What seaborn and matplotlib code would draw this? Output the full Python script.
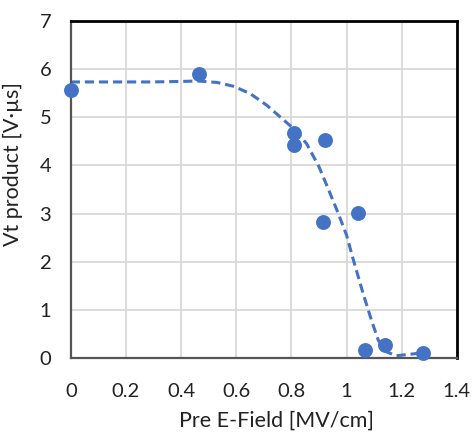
import matplotlib
matplotlib.use("Agg")
import matplotlib.pyplot as plt
import seaborn as sns
import pandas as pd

# measured points
field = [0.0, 0.464, 0.808, 0.808, 0.92, 0.914, 1.042, 1.067, 1.139, 1.278]
vt = [5.57, 5.89, 4.67, 4.42, 4.52, 2.82, 3.02, 0.17, 0.28, 0.11]

# dashed guide curve
curve_x = [0.0, 0.1, 0.2, 0.29, 0.4, 0.46, 0.53, 0.59, 0.65, 0.71, 0.76, 0.81,
           0.855, 0.9, 0.935, 0.97, 1.0, 1.025, 1.06, 1.09, 1.115, 1.145,
           1.18, 1.23, 1.275]
curve_y = [5.73, 5.73, 5.73, 5.73, 5.74, 5.75, 5.72, 5.64, 5.49, 5.25, 5.0, 4.75,
           4.45, 3.97, 3.49, 3.0, 2.55, 2.03, 1.34, 0.79, 0.37, 0.13,
           0.05, 0.08, 0.11]

x_ticks = [0, 0.2, 0.4, 0.6, 0.8, 1.0, 1.2, 1.4]
x_tick_labels = ["0", "0.2", "0.4", "0.6", "0.8", "1", "1.2", "1.4"]
y_ticks = [0, 1, 2, 3, 4, 5, 6, 7]

blue = "#4472C4"

sns.set_style("whitegrid")
plt.rcParams["font.family"] = ["Lato", "DejaVu Sans"]

pts = pd.DataFrame({"field": field, "vt": vt})
crv = pd.DataFrame({"x": curve_x, "y": curve_y})

fig = plt.figure(figsize=(4.72, 4.32), dpi=100)
ax = fig.add_axes([0.150, 0.171, 0.818, 0.781])

sns.lineplot(data=crv, x="x", y="y", ax=ax, sort=False, estimator=None,
             color=blue, linewidth=2.2, linestyle=(0, (3, 1.6)))
sns.scatterplot(data=pts, x="field", y="vt", ax=ax, color=blue, s=115,
                edgecolor=blue, linewidth=0, zorder=3, clip_on=False)

ax.set_xlim(0, 1.4)
ax.set_ylim(0, 7)
ax.set_xticks(x_ticks)
ax.set_xticklabels(x_tick_labels)
ax.set_yticks(y_ticks)
ax.grid(True, color="#d9d9d9", linewidth=1.3)
ax.tick_params(axis="x", pad=18, labelsize=14.5, length=0, colors="#222222")
ax.tick_params(axis="y", pad=14, labelsize=14.5, length=0, colors="#222222")

for side in ["top", "right"]:
    ax.spines[side].set_color("black")
    ax.spines[side].set_linewidth(2)
for side in ["left", "bottom"]:
    ax.spines[side].set_color("#555555")
    ax.spines[side].set_linewidth(1.6)

ax.set_xlabel("Pre E-Field [MV/cm]", fontsize=15.5, color="#222222")
ax.set_ylabel("Vt product [V·µs]", fontsize=15.5, color="#222222")
ax.xaxis.set_label_coords(0.534, -0.155)
ax.yaxis.set_label_coords(-0.125, 0.575)

fig.savefig("out.png", dpi=100)
